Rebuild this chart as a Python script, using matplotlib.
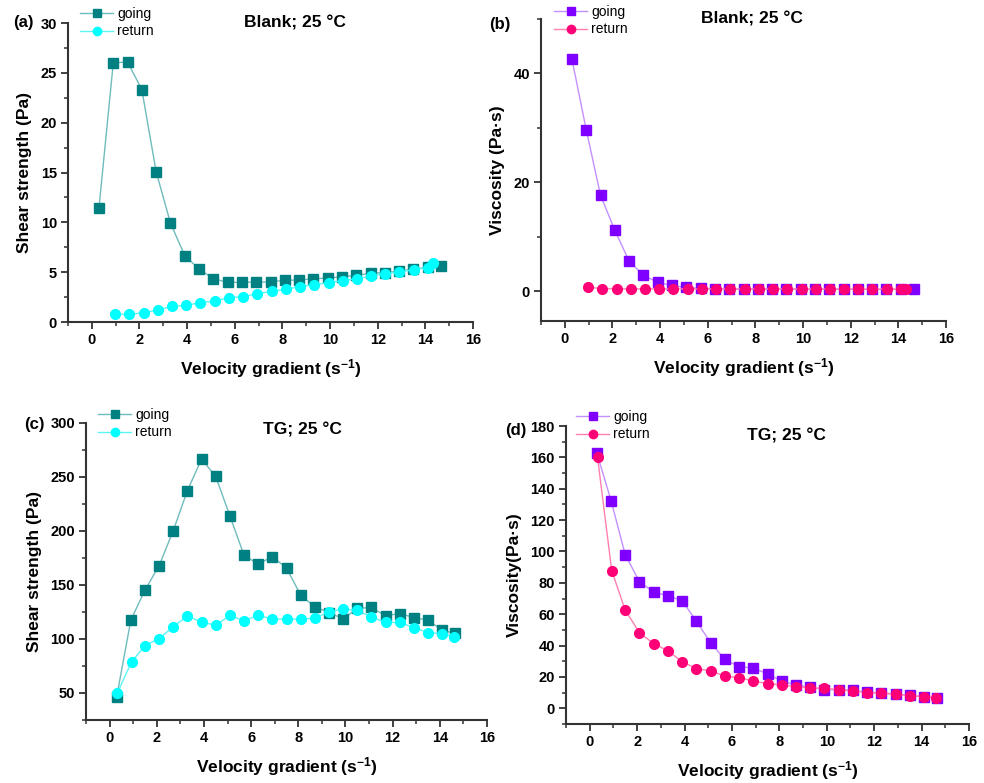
import matplotlib
matplotlib.use("Agg")
import matplotlib.pyplot as plt
from matplotlib.ticker import MultipleLocator
from matplotlib.lines import Line2D

plt.rcParams['font.family'] = ['Liberation Sans', 'DejaVu Sans']
plt.rcParams['font.weight'] = 'bold'
plt.rcParams['mathtext.default'] = 'regular'

# velocity gradient (s^-1)
x_going = [0.3, 0.9, 1.5, 2.1, 2.7, 3.3, 3.9, 4.5, 5.1, 5.7, 6.3, 6.9, 7.5, 8.1,
           8.7, 9.3, 9.9, 10.5, 11.1, 11.7, 12.3, 12.9, 13.5, 14.1, 14.65]
x_ret_blank = [0.97, 1.57, 2.17, 2.77, 3.36, 3.96, 4.55, 5.15, 5.76, 6.36, 6.95, 7.55,
               8.15, 8.74, 9.34, 9.94, 10.55, 11.13, 11.72, 12.32, 12.91, 13.52, 14.1, 14.33]
x_ret_tg = [0.33, 0.93, 1.5, 2.1, 2.7, 3.3, 3.9, 4.5, 5.1, 5.7, 6.3, 6.9, 7.5, 8.1,
            8.7, 9.3, 9.9, 10.5, 11.1, 11.7, 12.3, 12.9, 13.5, 14.1, 14.6]

# (a) Blank shear strength (Pa)
shear_blank_going = [11.44, 25.99, 26.1, 23.3, 15.08, 9.93, 6.66, 5.32, 4.35, 3.98, 3.98,
                     4.01, 4.01, 4.2, 4.2, 4.35, 4.4, 4.55, 4.68, 4.9, 4.95, 5.1, 5.3, 5.5, 5.65]
shear_blank_return = [0.77, 0.77, 0.94, 1.2, 1.57, 1.67, 1.94, 2.1, 2.44, 2.54, 2.84, 3.08,
                      3.28, 3.55, 3.75, 3.95, 4.15, 4.35, 4.6, 4.85, 5.02, 5.25, 5.45, 5.9]

# (b) Blank viscosity (Pa·s)
visc_blank_going = [42.6, 29.6, 17.6, 11.15, 5.5, 2.9, 1.6, 1.04, 0.67, 0.5, 0.45, 0.4, 0.38,
                    0.36, 0.35, 0.34, 0.33, 0.33, 0.32, 0.32, 0.31, 0.3, 0.3, 0.3, 0.3]
visc_blank_return = [0.7, 0.45, 0.4, 0.4, 0.4, 0.4, 0.4, 0.4, 0.4, 0.38, 0.38, 0.38, 0.38,
                     0.38, 0.38, 0.38, 0.38, 0.38, 0.38, 0.38, 0.38, 0.38, 0.38, 0.45]

# (c) TG shear strength (Pa)
shear_tg_going = [46.3, 117.4, 145.3, 167.9, 200.4, 237.5, 266.6, 250.5, 214.0, 177.5, 169.4,
                  176.2, 165.7, 140.7, 129.8, 124.5, 118.7, 128.3, 129.2, 121.5, 123.6, 119.9,
                  117.4, 108.2, 105.1]
shear_tg_return = [50.0, 78.8, 93.9, 100.4, 111.3, 121.5, 115.6, 112.8, 121.8, 116.8, 122.1,
                   118.4, 118.4, 118.4, 119.3, 125.2, 127.7, 126.4, 120.5, 115.3, 115.3, 110.6,
                   106.0, 104.8, 102.0]

# (d) TG viscosity (Pa·s)
visc_tg_going = [162.8, 132.5, 97.9, 80.7, 74.1, 71.7, 68.6, 55.6, 41.8, 31.2, 26.5, 25.7,
                 21.9, 17.4, 14.9, 13.4, 11.9, 11.9, 11.5, 10.2, 10.0, 9.1, 8.3, 7.4, 6.8]
visc_tg_return = [160.0, 87.7, 62.6, 48.2, 41.2, 36.7, 29.7, 25.3, 23.8, 20.6, 19.5, 17.4,
                  15.7, 14.9, 13.8, 13.2, 12.7, 11.9, 11.0, 10.0, 9.6, 8.9, 8.1, 7.4, 6.6]

W, H = 984, 783
fig = plt.figure(figsize=(W / 100, H / 100), dpi=100)

teal = dict(going=('#008080', '#6fbcbc'), ret=('#00ffff', '#5cf5f5'))
purp = dict(going=('#7f00ff', '#c490ff'), ret=('#ff0077', '#ff7fb0'))


def px_axes(l, r, t, b):
    return fig.add_axes([l / W, 1 - b / H, (r - l) / W, (b - t) / H])


def style(ax, ylim, ymaj, ymin, ylabel):
    ax.set_xlim(-1, 16)
    ax.set_ylim(*ylim)
    ax.xaxis.set_major_locator(MultipleLocator(2))
    ax.xaxis.set_minor_locator(MultipleLocator(1))
    ax.yaxis.set_major_locator(MultipleLocator(ymaj))
    ax.yaxis.set_minor_locator(MultipleLocator(ymin))
    for s in ['top', 'right']:
        ax.spines[s].set_visible(False)
    for s in ['left', 'bottom']:
        ax.spines[s].set_linewidth(1.5)
        ax.spines[s].set_color('#333333')
    ax.tick_params(which='major', direction='out', length=5, width=1.3, color='#333333',
                   labelsize=10.5, pad=3)
    ax.tick_params(which='minor', direction='out', length=3, width=1.1, color='#333333')
    ax.set_xlabel('Velocity gradient (s$^{-1}$)', fontsize=12.5, fontweight='bold', labelpad=7)
    ax.set_ylabel(ylabel, fontsize=12.5, fontweight='bold', labelpad=6)


def draw(ax, xg, yg, xr, yr, cols, legpos):
    mg, lg = cols['going']
    mr, lr = cols['ret']
    ax.plot(xg, yg, color=lg, lw=1.0, marker='s', ms=7, mfc=mg, mec=mg, zorder=3)
    ax.plot(xr, yr, color=lr, lw=1.0, marker='o', ms=7, mfc=mr, mec=mr, zorder=4)
    handles = [Line2D([], [], color=lg, lw=1.0, marker='s', ms=6, mfc=mg, mec=mg),
               Line2D([], [], color=lr, lw=1.0, marker='o', ms=6, mfc=mr, mec=mr)]
    fig.legend(handles, ['going', 'return'], loc='upper left',
               bbox_to_anchor=(legpos[0] / W, 1 - legpos[1] / H), frameon=False,
               prop={'size': 10, 'weight': 'normal'}, handlelength=2.4,
               handletextpad=0.3, labelspacing=0.25, borderpad=0, borderaxespad=0)


# (a)
ax = px_axes(68, 473, 23, 322)
draw(ax, x_going, shear_blank_going, x_ret_blank, shear_blank_return, teal, (80, 7))
style(ax, (0, 30), 5, 2.5, 'Shear strength (Pa)')
ax.text(0.56, 1.0, 'Blank; 25 °C', transform=ax.transAxes, ha='center', va='center',
        fontsize=12.5, fontweight='bold')
fig.text(23 / W, 1 - 22 / H, '(a)', ha='center', va='center', fontsize=12, fontweight='bold')

# (b)
ax = px_axes(541, 946, 19, 321)
draw(ax, x_going, visc_blank_going, x_ret_blank, visc_blank_return, purp, (554, 5))
style(ax, (-5.5, 50), 20, 10, 'Viscosity (Pa·s)')
ax.text(0.52, 1.0, 'Blank; 25 °C', transform=ax.transAxes, ha='center', va='center',
        fontsize=12.5, fontweight='bold')
fig.text(500 / W, 1 - 25 / H, '(b)', ha='center', va='center', fontsize=12, fontweight='bold')

# (c)
ax = px_axes(86, 487, 423, 720)
draw(ax, x_going, shear_tg_going, x_ret_tg, shear_tg_return, teal, (98, 408))
style(ax, (25, 300), 50, 25, 'Shear strength (Pa)')
ax.text(0.54, 0.975, 'TG; 25 °C', transform=ax.transAxes, ha='center', va='center',
        fontsize=12.5, fontweight='bold')
fig.text(34 / W, 1 - 424 / H, '(c)', ha='center', va='center', fontsize=12, fontweight='bold')

# (d)
ax = px_axes(566, 969, 426, 724)
draw(ax, x_going, visc_tg_going, x_ret_tg, visc_tg_return, purp, (576, 410))
style(ax, (-10, 180), 20, 10, 'Viscosity(Pa·s)')
ax.text(0.548, 0.965, 'TG; 25 °C', transform=ax.transAxes, ha='center', va='center',
        fontsize=12.5, fontweight='bold')
fig.text(516 / W, 1 - 431 / H, '(d)', ha='center', va='center', fontsize=12, fontweight='bold')

fig.savefig('out.png', dpi=100)
